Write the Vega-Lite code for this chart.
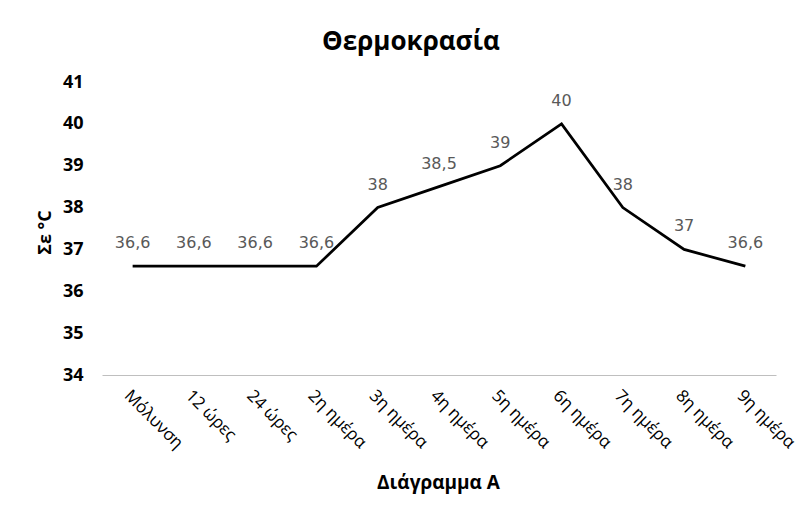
{
  "$schema": "https://vega.github.io/schema/vega-lite/v6.json",
  "autosize": {"type": "none"},
  "width": 674,
  "height": 293,
  "padding": {"left": 102, "top": 82, "right": 25, "bottom": 136},
  "background": "white",
  "config": {
    "locale": {"number": {"decimal": ",", "thousands": ".", "grouping": [3], "currency": ["", " €"]}},
    "view": {"stroke": null}
  },
  "title": {
    "text": "Θερμοκρασία",
    "font": "Open Sans",
    "fontSize": 26,
    "fontWeight": "bold",
    "color": "#000000",
    "anchor": "middle",
    "dx": -28,
    "offset": 18
  },
  "data": {
    "values": [
      {"day": "Μόλυνση", "temp": 36.6},
      {"day": "12 ώρες", "temp": 36.6},
      {"day": "24 ώρες", "temp": 36.6},
      {"day": "2η ημέρα", "temp": 36.6},
      {"day": "3η ημέρα", "temp": 38},
      {"day": "4η ημέρα", "temp": 38.5},
      {"day": "5η ημέρα", "temp": 39},
      {"day": "6η ημέρα", "temp": 40},
      {"day": "7η ημέρα", "temp": 38},
      {"day": "8η ημέρα", "temp": 37},
      {"day": "9η ημέρα", "temp": 36.6}
    ]
  },
  "encoding": {
    "x": {
      "field": "day",
      "type": "ordinal",
      "sort": null,
      "scale": {"type": "band", "paddingInner": 0, "paddingOuter": 0},
      "axis": {
        "title": "Διάγραμμα Α",
        "titleFont": "Open Sans",
        "titleFontSize": 19,
        "titleFontWeight": "bold",
        "titleColor": "#000000",
        "titleX": 336,
        "titleY": 113,
        "titleBaseline": "alphabetic",
        "labelAngle": 45,
        "labelFont": "Open Sans",
        "labelFontSize": 17,
        "labelColor": "#000000",
        "labelPadding": 12,
        "ticks": false,
        "domainColor": "#bfbfbf",
        "domainWidth": 1,
        "grid": false
      }
    },
    "y": {
      "field": "temp",
      "type": "quantitative",
      "scale": {"domain": [34, 41], "nice": false, "zero": false},
      "axis": {
        "title": "Σε °C",
        "titleFont": "Open Sans",
        "titleFontSize": 18,
        "titleFontWeight": "bold",
        "titleColor": "#000000",
        "titleX": -52,
        "titleY": 150,
        "titleAlign": "center",
        "titleBaseline": "alphabetic",
        "values": [34, 35, 36, 37, 38, 39, 40, 41],
        "labelFont": "Open Sans",
        "labelFontSize": 18,
        "labelFontWeight": "bold",
        "labelColor": "#000000",
        "labelPadding": 19,
        "ticks": false,
        "domain": false,
        "grid": false
      }
    }
  },
  "layer": [
    {
      "mark": {"type": "line", "color": "#000000", "strokeWidth": 2.75}
    },
    {
      "mark": {"type": "text", "font": "DejaVu Sans", "fontSize": 16, "color": "#595959", "dy": -23, "baseline": "middle"},
      "encoding": {
        "text": {"field": "temp", "type": "quantitative", "format": ".3~g"}
      }
    }
  ]
}
